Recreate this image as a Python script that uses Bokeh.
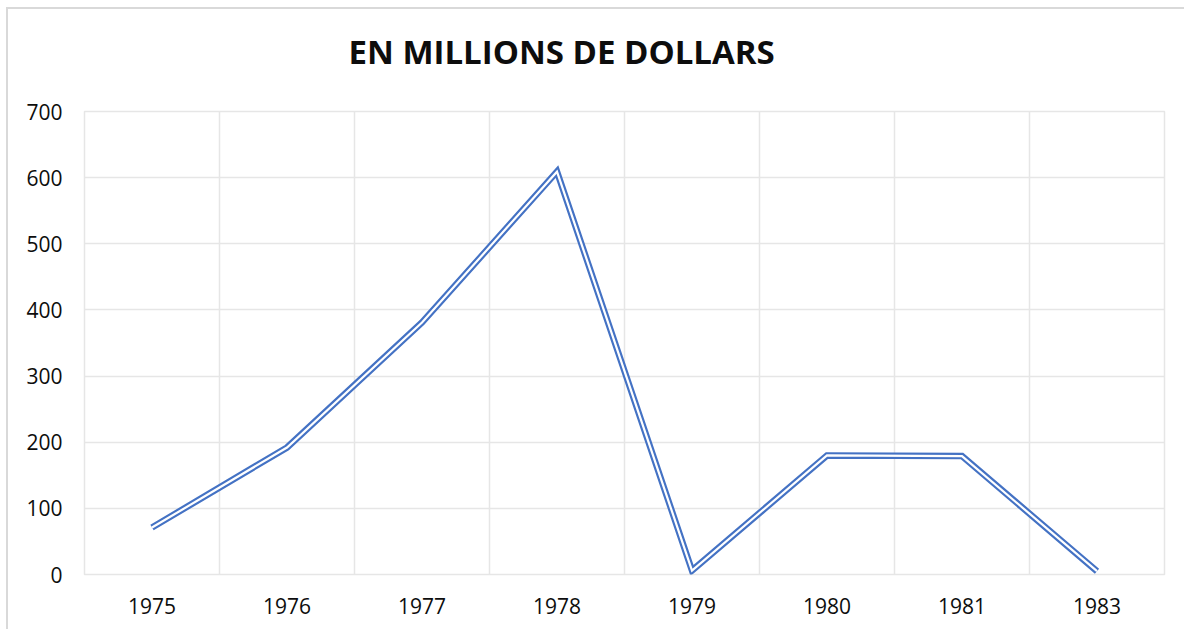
from bokeh.plotting import figure
from bokeh.models import FixedTicker, Title
from bokeh.embed import file_html
from bokeh.resources import INLINE

years = ["1975", "1976", "1977", "1978", "1979", "1980", "1981", "1983"]
values = [71, 192, 381, 609, 6, 180, 179, 5]
y_ticks = [0, 100, 200, 300, 400, 500, 600, 700]
title_text = "EN MILLIONS DE DOLLARS"

xs = [i + 0.5 for i in range(len(years))]

p = figure(output_backend="svg", toolbar_location=None,
           frame_width=1080, frame_height=463,
           x_range=(0, len(years)), y_range=(0, 700))
p.min_border_left = 76
p.min_border_right = 20
p.min_border_top = 99
p.min_border_bottom = 55
p.styles = {"margin-left": "6px", "margin-top": "7px",
            "border-left": "2px solid #d9d9d9", "border-top": "2px solid #d9d9d9"}
p.outline_line_color = "#e6e6e6"
p.outline_line_width = 1.5
p.background_fill_color = "white"
p.border_fill_color = "white"

# spacer panel between the frame and the title
spacer = Title(text=" ", standoff=18, text_font_size="1px", text_color="white")
p.add_layout(spacer, "above")

t = Title(text=title_text, align="left", offset=264, standoff=34,
          text_font="Open Sans", text_font_size="33px", text_font_style="bold",
          text_color="#0d0d0d")
p.add_layout(t, "above")

# axes
p.xaxis.ticker = FixedTicker(ticks=xs)
p.xaxis.major_label_overrides = {x: y for x, y in zip(xs, years)}
p.xaxis.axis_line_color = None
p.xaxis.major_tick_line_color = None
p.xaxis.minor_tick_line_color = None
p.xaxis.major_label_standoff = 17
p.xaxis.major_label_text_font = "Open Sans"
p.xaxis.major_label_text_font_size = "21px"
p.xaxis.major_label_text_color = "#0d0d0d"

p.yaxis.ticker = FixedTicker(ticks=y_ticks)
p.yaxis.axis_line_color = None
p.yaxis.major_tick_line_color = None
p.yaxis.minor_tick_line_color = None
p.yaxis.major_label_standoff = 16
p.yaxis.major_label_text_font = "Open Sans"
p.yaxis.major_label_text_font_size = "21px"
p.yaxis.major_label_text_color = "#0d0d0d"

p.xgrid.ticker = FixedTicker(ticks=list(range(len(years) + 1)))
p.xgrid.grid_line_color = "#e6e6e6"
p.xgrid.grid_line_width = 1.5
p.ygrid.ticker = FixedTicker(ticks=y_ticks)
p.ygrid.grid_line_color = "#e6e6e6"
p.ygrid.grid_line_width = 1.5

p.line(xs, values, line_color="#4472C4", line_width=6.5, line_join="miter")
p.line(xs, values, line_color="white", line_width=2.2, line_join="miter")

open("out.html", "w").write(file_html(p, INLINE))
